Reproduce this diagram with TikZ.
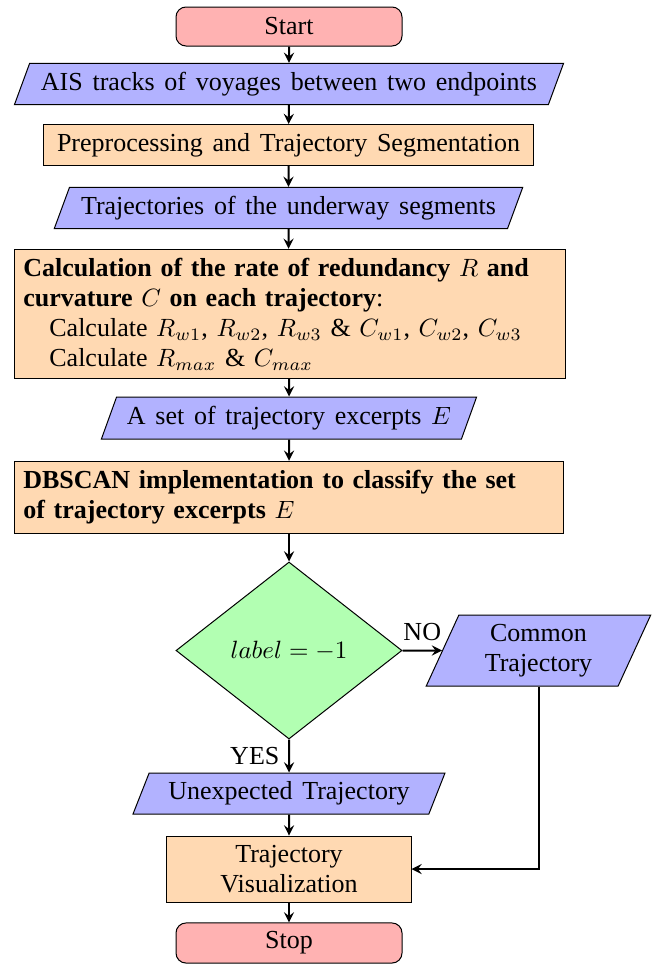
\documentclass[tikz,border=0pt]{standalone}
\usepackage{fontspec}
\setmainfont{Liberation Serif}[Scale=1.04,WordSpace=1.5]
\usetikzlibrary{shapes.geometric,arrows}

\tikzset{
    startstop/.style={rectangle, rounded corners, minimum width=90.4pt, minimum height=15.6pt, text centered, draw=black, fill=red!30},
    io/.style={trapezium, trapezium left angle=70, trapezium right angle=110, trapezium stretches=true, minimum height=16.4pt, text centered, draw=black, fill=blue!30},
    process/.style={rectangle, minimum height=16.4pt, text centered, draw=black, fill=orange!30},
    decision/.style={diamond, aspect=1.28, minimum width=90.4pt, minimum height=70.8pt, text centered, draw=black, fill=green!30},
    arrow/.style={thick,->,>=stealth}
}

\begin{document}
\begin{tikzpicture}[x=0.4pt,y=-0.4pt]
    \useasboundingbox (0,0) rectangle (654,967);

    \node (start) [startstop] at (289,26.5) {Start};
    \node (ais) [io, minimum width=220pt] at (289,84) {AIS tracks of voyages between two endpoints};
    \node (pre) [process, minimum width=195.6pt] at (288.5,145) {Preprocessing and Trajectory Segmentation};
    \node (traj) [io, minimum width=187.6pt, minimum height=16pt] at (288.5,208) {Trajectories of the underway segments};
    \node (calc) [process, text width=213.3pt, align=left] at (290,314) {\textbf{Calculation of the rate of redundancy $R$ and}\\
        \textbf{curvature $C$ on each trajectory}:\\
        \quad Calculate $R_{w1}$, $R_{w2}$, $R_{w3}$ \& $C_{w1}$, $C_{w2}$, $C_{w3}$\\
        \quad Calculate $R_{max}$ \& $C_{max}$};
    \node (set) [io, minimum width=150.4pt, minimum height=16.8pt] at (289,418) {A set of trajectory excerpts $E$};
    \node (dbscan) [process, text width=212.5pt, align=left, minimum height=29pt] at (289,497.5) {\textbf{DBSCAN implementation to classify the set}\\
        \textbf{of trajectory excerpts} $E$};
    \node (dec) [decision] at (289,650.5) {$label = -1$};
    \node (common) [io, minimum width=90pt, minimum height=28.4pt, align=center] at (538.5,650.5) {Common\\Trajectory};
    \node (unexp) [io, minimum width=124.8pt] at (289,793.5) {Unexpected Trajectory};
    \node (vis) [process, minimum width=97.6pt, minimum height=26.4pt, align=center] at (289,869) {Trajectory\\Visualization};
    \node (stop) [startstop] at (289,943) {Stop};

    \draw [arrow] (start) -- (ais);
    \draw [arrow] (ais) -- (pre);
    \draw [arrow] (pre) -- (traj);
    \draw [arrow] (traj) -- (calc.north -| traj.south);
    \draw [arrow] (calc.south -| set.north) -- (set);
    \draw [arrow] (set) -- (dbscan);
    \draw [arrow] (dbscan) -- (dec);
    \draw [arrow] (dec) -- node (lblno) [above] {NO} (common);
    \draw [arrow] (dec) -- node (lblyes) [left] {YES} (unexp);
    \draw [arrow] (unexp) -- (vis);
    \draw [arrow] (common.south) |- (vis.east);
    \draw [arrow] (vis) -- (stop);
\end{tikzpicture}
\end{document}
